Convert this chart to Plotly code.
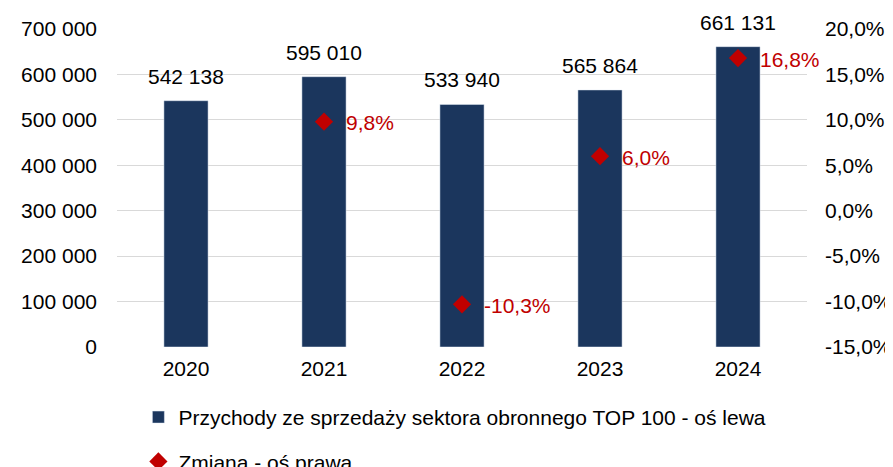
import plotly.graph_objects as go

years = ["2020", "2021", "2022", "2023", "2024"]
revenue = [542138, 595010, 533940, 565864, 661131]
change_years = ["2021", "2022", "2023", "2024"]
change = [0.098, -0.103, 0.060, 0.168]
right_ticks = [-0.15, -0.10, -0.05, 0.0, 0.05, 0.10, 0.15, 0.20]

bar_name = "Przychody ze sprzedaży sektora obronnego TOP 100 - oś lewa"
chg_name = "Zmiana - oś prawa"

FONT = "Liberation Sans, Arial, sans-serif"
FS = 21
navy = "#1B365D"
red = "#C00000"


def fmt_int(v):
    return f"{v:,}".replace(",", " ")


def fmt_pct(v):
    return f"{v*100:.1f}%".replace(".", ",")


fig = go.Figure()
fig.add_trace(go.Bar(x=years, y=revenue, name=bar_name, marker_color=navy,
                     width=0.32, legendgroup="a", yaxis="y"))
fig.add_trace(go.Scatter(x=change_years, y=change, name=chg_name, mode="markers",
                         marker=dict(symbol="diamond", size=14, color=red),
                         legendgroup="b", yaxis="y2"))

for x, v in zip(years, revenue):
    fig.add_annotation(x=years.index(x), y=v, xref="x", yref="y", text=fmt_int(v),
                       showarrow=False, yanchor="bottom", yshift=11,
                       font=dict(size=FS, color="#000"))

for x, v in zip(change_years, change):
    fig.add_annotation(x=years.index(x), y=v, xref="x", yref="y2", text=fmt_pct(v),
                       showarrow=False, xanchor="left", xshift=20, yshift=-1,
                       font=dict(size=FS, color=red))

fig.update_layout(
    width=885, height=459,
    margin=dict(l=109, r=86, t=21, b=120, autoexpand=False),
    paper_bgcolor="white", plot_bgcolor="white",
    separators=", ",
    font=dict(family=FONT, size=FS, color="#000"),
    xaxis=dict(type="category", showgrid=False, showline=False, ticks="",
               ticklabelstandoff=7, tickfont=dict(size=FS), range=[-0.5, 4.5]),
    yaxis=dict(range=[0, 700000], dtick=100000, tickformat=",d", showgrid=True,
               gridcolor="#D9D9D9", gridwidth=1.3, zeroline=False, ticks="",
               ticklabelstandoff=19, tickfont=dict(size=FS)),
    yaxis2=dict(range=[-0.15, 0.20], tickvals=right_ticks,
                ticktext=[fmt_pct(t) for t in right_ticks], overlaying="y",
                side="right", showgrid=False, zeroline=False, ticks="",
                ticklabelstandoff=17, tickfont=dict(size=FS)),
    legend=dict(orientation="v", x=0.031, y=-0.157, xanchor="left", yanchor="top",
                font=dict(size=FS), tracegroupgap=14, bgcolor="rgba(0,0,0,0)"),
    showlegend=True,
)

fig.write_html("out.html")
